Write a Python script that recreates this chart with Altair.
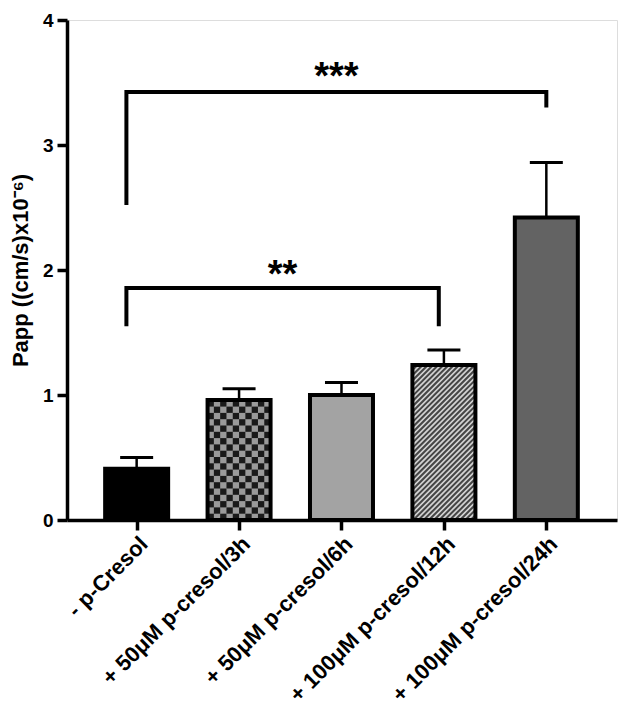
import json
import numpy as np
import pandas as pd
import altair as alt

# ---------------- data ----------------
categories = [
    "- p-Cresol",
    "+ 50μM p-cresol/3h",
    "+ 50μM p-cresol/6h",
    "+ 100μM p-cresol/12h",
    "+ 100μM p-cresol/24h",
]
means = [0.41, 0.96, 1.00, 1.24, 2.42]
err_tops = [0.50, 1.05, 1.10, 1.36, 2.86]
fills = ["#000000", "#9a9a9a", "#a3a3a3", "#d4d4d4", "#636363"]
patterns = ["solid", "checker", "solid", "hatch", "solid"]
y_ticks = [0, 1, 2, 3, 4]

bracket_left = [-0.1, -0.1]
bracket_right = [2.95, 4.0]
bracket_top = [1.856, 3.424]
bracket_left_bottom = [1.55, 2.52]
bracket_right_bottom = [1.55, 3.30]
bracket_labels = ["**", "***"]
bracket_label_y = [2.02, 3.60]

# ---------------- geometry / style ----------------
W, H = 550, 500
XDOM = [-0.68, 4.69]
YDOM = [0, 4]
PX_X = W / (XDOM[1] - XDOM[0])
PX_Y = H / (YDOM[1] - YDOM[0])
HALF = 31.5 / PX_X          # half bar width in x units
CAP = 16.5 / PX_X           # half error cap width
FONT = "Liberation Sans"

idx = list(range(len(categories)))
bars = pd.DataFrame({
    "i": idx,
    "cat": categories,
    "x0": [i - HALF for i in idx],
    "x1": [i + HALF for i in idx],
    "cx0": [i - CAP for i in idx],
    "cx1": [i + CAP for i in idx],
    "mean": means,
    "err": err_tops,
})

# checkerboard cells (bar with 'checker' pattern)
cells = []
for i, p in enumerate(patterns):
    if p != "checker":
        continue
    ncol = 10
    cw_px = 2 * HALF * PX_X / ncol
    nrow = int(np.ceil(means[i] * PX_Y / cw_px))
    for r in range(nrow):
        for c in range(ncol):
            if (r + c) % 2 == 0:
                cells.append({
                    "x0": i - HALF + c * cw_px / PX_X,
                    "x1": i - HALF + (c + 1) * cw_px / PX_X,
                    "y0": r * cw_px / PX_Y,
                    "y1": min((r + 1) * cw_px / PX_Y, means[i]),
                })
cells = pd.DataFrame(cells)

# diagonal hatch lines (bar with 'hatch' pattern)
hatch = []
for i, p in enumerate(patterns):
    if p != "hatch":
        continue
    hw = HALF * PX_X
    hh = means[i] * PX_Y
    period = 5.2
    c = -2 * hw
    while c < hh + 2 * hw:
        xa = max(-hw, -c)
        xb = min(hw, hh - c)
        if xb > xa:
            hatch.append({
                "x0": i + xa / PX_X, "x1": i + xb / PX_X,
                "y0": (xa + c) / PX_Y, "y1": (xb + c) / PX_Y,
            })
        c += period
hatch = pd.DataFrame(hatch)

# brackets as polylines
brk = []
for b in range(len(bracket_labels)):
    pts = [
        (bracket_left[b], bracket_left_bottom[b]),
        (bracket_left[b], bracket_top[b]),
        (bracket_right[b], bracket_top[b]),
        (bracket_right[b], bracket_right_bottom[b]),
    ]
    for k, (x, y) in enumerate(pts):
        brk.append({"b": b, "k": k, "x": x, "y": y})
brk = pd.DataFrame(brk)
lbl = pd.DataFrame({
    "x": [(l + r) / 2 for l, r in zip(bracket_left, bracket_right)],
    "y": bracket_label_y,
    "t": bracket_labels,
})

# ---------------- scales / axes ----------------
label_expr = json.dumps(categories) + "[datum.value]"
xscale = alt.Scale(domain=XDOM, nice=False, zero=False)
yscale = alt.Scale(domain=YDOM, nice=False)

x_axis = alt.Axis(
    values=idx, labelExpr=label_expr, labelAngle=-45, labelAlign="right",
    labelBaseline="top", labelFont=FONT, labelFontSize=22, labelFontWeight="bold",
    labelColor="black", labelPadding=3, labelFlush=False, labelOverlap=False,
    labelLimit=500,
    tickSize=10, tickWidth=3.5, tickColor="black", domainWidth=3.5,
    domainColor="black", grid=False, title=None, zindex=1,
)
y_axis = alt.Axis(
    values=y_ticks, format="d", labelFont=FONT, labelFontSize=19,
    labelFontWeight="bold", labelColor="black", labelPadding=4,
    tickSize=10, tickWidth=3.5, tickColor="black", domainWidth=3.5,
    domainColor="black", grid=False, title="Papp ((cm/s)x10⁻⁶)",
    titleFont=FONT, titleFontSize=22, titleFontWeight="bold",
    titleColor="black", titlePadding=10, zindex=1,
)

base_bars = alt.Chart(bars).mark_rect().encode(
    x=alt.X("x0:Q", scale=xscale, axis=x_axis),
    x2="x1:Q",
    y=alt.Y("mean:Q", scale=yscale, axis=y_axis),
    y2=alt.datum(0),
    color=alt.Color("cat:N", scale=alt.Scale(domain=categories, range=fills), legend=None),
)

checker = alt.Chart(cells).mark_rect(color="#1a1a1a").encode(
    x=alt.X("x0:Q", scale=xscale), x2="x1:Q",
    y=alt.Y("y0:Q", scale=yscale), y2="y1:Q",
)

hatch_lines = alt.Chart(hatch).mark_rule(color="#454545", strokeWidth=2).encode(
    x=alt.X("x0:Q", scale=xscale), x2="x1:Q",
    y=alt.Y("y0:Q", scale=yscale), y2="y1:Q",
)

err_line = alt.Chart(bars).mark_rule(color="black", strokeWidth=2.5).encode(
    x=alt.X("i:Q", scale=xscale),
    y=alt.Y("mean:Q", scale=yscale), y2="err:Q",
)
err_cap = alt.Chart(bars).mark_rule(color="black", strokeWidth=3).encode(
    x=alt.X("cx0:Q", scale=xscale), x2="cx1:Q",
    y=alt.Y("err:Q", scale=yscale),
)

outline = alt.Chart(bars).mark_rect(
    fillOpacity=0, stroke="black", strokeWidth=4, strokeJoin="miter"
).encode(
    x=alt.X("x0:Q", scale=xscale), x2="x1:Q",
    y=alt.Y("mean:Q", scale=yscale), y2=alt.datum(0),
)

brackets = alt.Chart(brk).mark_line(
    color="black", strokeWidth=4, strokeJoin="miter", strokeCap="butt"
).encode(
    x=alt.X("x:Q", scale=xscale),
    y=alt.Y("y:Q", scale=yscale),
    detail="b:N",
    order="k:Q",
)

stars = alt.Chart(lbl).mark_text(
    font=FONT, fontSize=38, fontWeight="bold", color="black",
    align="center", baseline="middle", dy=8,
).encode(
    x=alt.X("x:Q", scale=xscale),
    y=alt.Y("y:Q", scale=yscale),
    text="t:N",
)

chart = alt.layer(
    base_bars, checker, hatch_lines, err_line, err_cap, outline, brackets, stars
).properties(
    width=W, height=H,
    autosize=alt.AutoSizeParams(type="none"),
    padding={"left": 59, "top": 12, "right": 5, "bottom": 200},
).configure_view(stroke=None).configure(background="white")

chart.save("out.html", embed_options={"renderer": "svg", "actions": False})
